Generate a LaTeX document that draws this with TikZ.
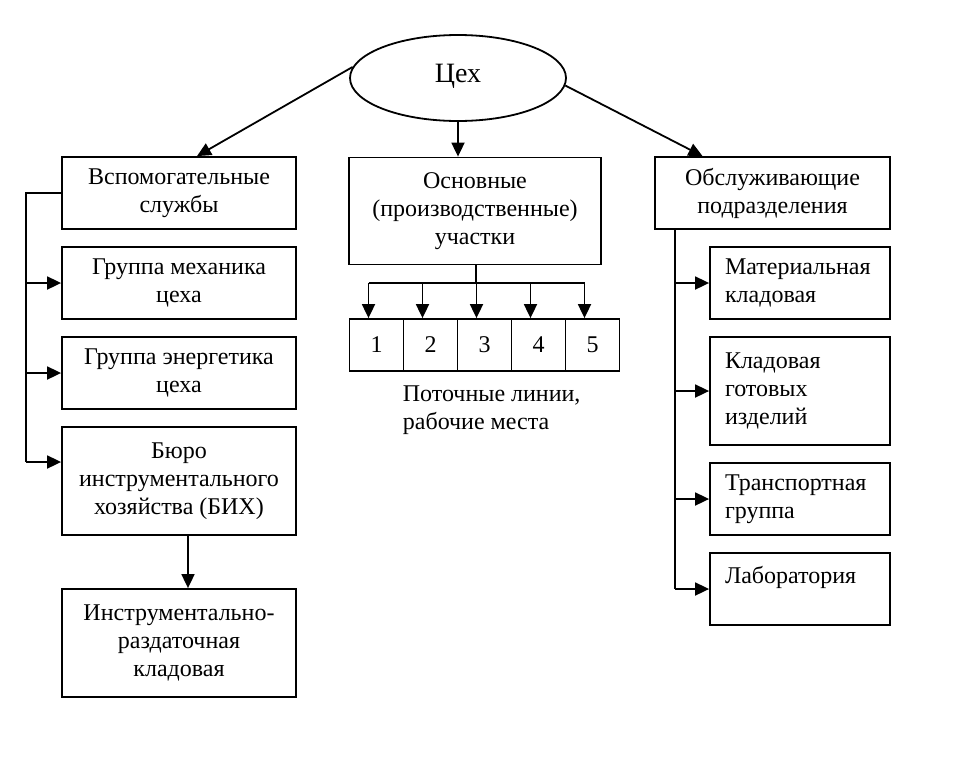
\documentclass[tikz,border=0pt]{standalone}
\usepackage{fontspec}
\setmainfont{Liberation Serif}
\usetikzlibrary{positioning,arrows.meta,shapes.geometric}

\begin{document}
\begin{tikzpicture}[x=1pt, y=-1pt, line width=1.8pt,
	font=\fontsize{24}{28}\selectfont,
	>={Triangle[length=14pt,width=13pt]},
	box/.style={draw, minimum width=234pt, minimum height=72pt, inner sep=2pt, align=center},
	tall/.style={box, minimum height=108pt},
	rbox/.style={draw, minimum width=180pt, minimum height=72pt, text width=150pt, inner sep=2pt, align=left},
	num/.style={draw, minimum width=54pt, minimum height=52pt, inner sep=0pt}]
		\useasboundingbox (0,0) rectangle (978,772);
		\node[draw, ellipse, minimum width=216pt, minimum height=86pt, inner sep=0pt, font=\fontsize{28}{30}\selectfont] (cex) at (458,78) {\raisebox{9pt}{Цех}};
		% top row
		\node[box] (vsp) at (179,193) {Вспомогательные\\службы};
		\node[box, minimum width=252pt, minimum height=107pt] (osn) at (475,211) {Основные\\(производственные)\\участки};
		\node[box, minimum width=235pt] (obs) at (772.5,193) {Обслуживающие\\подразделения};
		\draw[->] (cex.174) -- ([xshift=18pt]vsp.north);
		\draw[->] (cex.south) -- (cex.south |- osn.north);
		\draw[->] (cex.356) -- ([xshift=-70pt]obs.north);
		% left column
		\node[box] (mech) at (179,283) {Группа механика\\цеха};
		\node[box] (energ) at (179,373) {Группа энергетика\\цеха};
		\node[tall] (bix) at (179,481) {Бюро\\инструментального\\хозяйства (БИХ)};
		\node[tall] (irk) at (179,643) {Инструментально-\\раздаточная\\кладовая};
		\coordinate (lbus) at (26,193);
		\coordinate (bixin) at ([yshift=19pt]bix.west);
		\draw (vsp.west) -- (lbus) -- (lbus |- bixin);
		\draw[->] (lbus |- mech.west) -- (mech.west);
		\draw[->] (lbus |- energ.west) -- (energ.west);
		\draw[->] (lbus |- bixin) -- (bixin);
		\draw[->] ([xshift=9pt]bix.south) -- ([xshift=9pt]irk.north);
		% numbered lines
		\foreach \i/\x in {1/376.5, 2/430.5, 3/484.5, 4/538.5, 5/592.5}
			\node[num] (n\i) at (\x,345) {\i};
		\coordinate (br) at (476,283);
		\draw (osn.south -| br) -- (br);
		\foreach \i in {1,...,5}
			\coordinate (t\i) at ([xshift=-8pt]n\i.north);
		\draw (t1 |- br) -- (t5 |- br);
		\foreach \i in {1,...,5}
			\draw[->] (t\i |- br) -- (t\i);
		\node[anchor=north west, align=left, inner sep=0pt] (cap) at (402,385) {Поточные линии,\\рабочие места};
		% right column
		\node[rbox] (mat) at (800,283) {Материальная\\кладовая};
		\node[rbox, minimum height=108pt] (gotov) at (800,391) {Кладовая\\готовых\\изделий};
		\node[rbox] (trans) at (800,499) {Транспортная\\группа};
		\node[rbox] (lab) at (800,589) {Лаборатория\\~};
		\coordinate (rbus) at (675,229);
		\draw (rbus) -- (rbus |- lab.west);
		\foreach \b in {mat, gotov, trans, lab}
			\draw[->] (rbus |- \b.west) -- (\b.west);
	\end{tikzpicture}
\end{document}
